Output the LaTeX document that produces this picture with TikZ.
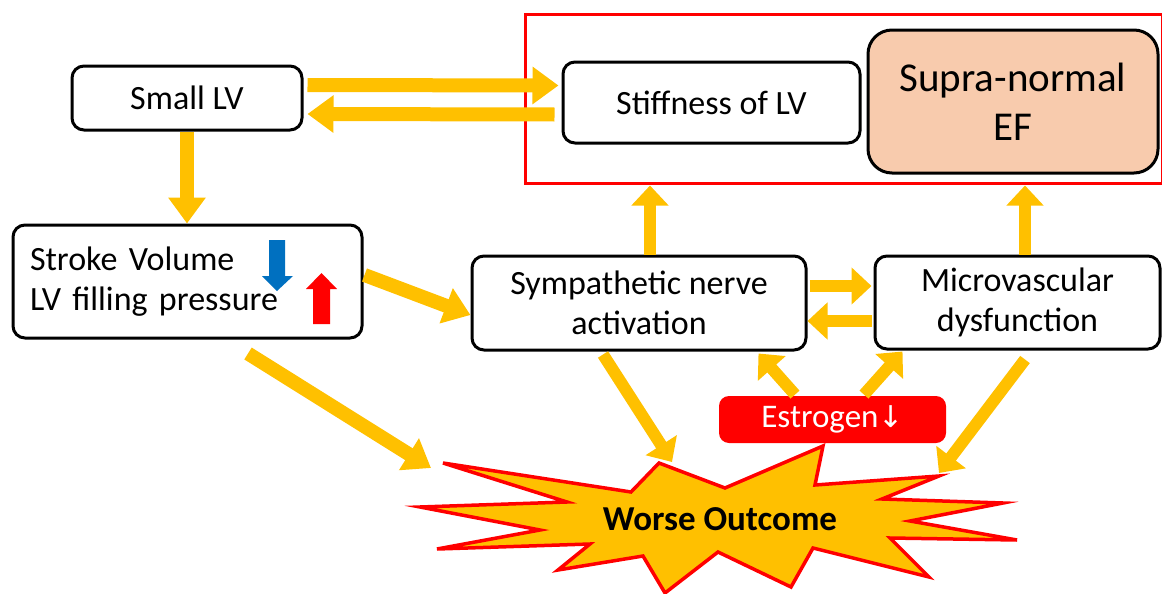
\documentclass[tikz,border=0pt]{standalone}
\usepackage{fontspec}
\setmainfont{Carlito}
\newfontfamily\symfont{DejaVu Sans}
\usetikzlibrary{arrows.meta,calc}
\definecolor{ylw}{HTML}{FFC000}
\definecolor{peach}{HTML}{F8CBAD}
\definecolor{blueA}{HTML}{0070C0}
\definecolor{redA}{HTML}{FF0000}
\begin{document}
\begin{tikzpicture}[x=0.5pt,y=-0.5pt,
  box/.style={draw=black,line width=1.5pt,rounded corners=6pt,fill=white,inner sep=0pt,align=center,font=\fontsize{17}{20}\selectfont},
  yarr/.style={draw=ylw,line width=7pt,-{Triangle[length=13pt,width=18pt]}},
  yarrs/.style={draw=ylw,line width=6pt,-{Triangle[length=10pt,width=18pt]}},
]
\useasboundingbox (0,0) rectangle (1162,594);
% frame
\node[draw=redA,line width=1.5pt,minimum width=318.5pt,minimum height=84.5pt,inner sep=0pt] (frame) at (843.5,98.5) {};
% nodes
\node[box,minimum width=115pt,minimum height=32pt] (smalllv) at (187,98) {Small LV};
\node[box,minimum width=148.5pt,minimum height=40.5pt] (stiff) at (711.5,102.5) {Stiffness of LV};
\node[box,fill=peach,rounded corners=12pt,minimum width=145pt,minimum height=71.5pt,font=\fontsize{20.5}{24.5}\selectfont] (supra) at (1013,101.5) {Supra-normal\\EF};
\node[box,align=left,text width=157.5pt,minimum height=56.5pt,inner xsep=8.5pt] (stroke) at (187.5,281.5) {Stroke Volume\\LV filling pressure};
\node[box,minimum width=167pt,minimum height=47pt] (symp) at (639,303) {Sympathetic nerve\\activation};
\node[box,minimum width=142.5pt,minimum height=46.5pt] (micro) at (1017.5,302.5) {Microvascular\\dysfunction};
% up/down marks
\fill[blueA] (269,240) -- (285,240) -- (285,276) -- (293,276) -- (277,291) -- (262,276) -- (269,276) -- cycle;
\fill[redA] (313,324) -- (330,324) -- (330,289) -- (337,289) -- (321.5,273) -- (306,289) -- (313,289) -- cycle;
% starburst
\draw[fill=ylw,draw=redA,line width=1.75pt,line join=miter]
  (443,463) -- (631,492) -- (659,463) -- (725,488) -- (823,446) -- (815,485) -- (939,476) -- (882,499)
  -- (1003,503) -- (910,521) -- (1017,540) -- (890,538) -- (929,577) -- (813,548) -- (791,587)
  -- (718,552) -- (665,593) -- (643,556) -- (558,570) -- (590,544) -- (437,549) -- (540,530)
  -- (420,507) -- (567,502) -- cycle;
\node[font=\bfseries\fontsize{17.5}{20}\selectfont,inner sep=0pt] (worse) at (720,519) {Worse Outcome};
% estrogen
\node[fill=redA,rounded corners=5pt,minimum width=113.5pt,minimum height=23.5pt,inner sep=0pt,text=white,font=\fontsize{16.5}{20}\selectfont] (estro) at (832.5,419.5) {Estrogen{\symfont\fontsize{15}{20}\selectfont ↓}};
% arrows
\draw[yarr] ($(smalllv.east)+(4,-13)$) -- ($(stiff.west)+(-3,-17)$);
\draw[yarr] ($(stiff.west)+(-7,12)$) -- ($(smalllv.east)+(4,16)$);
\coordinate (d1) at (smalllv.south);
\draw[yarr] (d1) -- (d1 |- stroke.north);
\draw[yarr] ($(stroke.east)+(1,-6.5)$) -- ($(symp.west)+(0,12)$);
\draw[yarr] ($(stroke.south)+(60.5,14)$) -- ($(worse)+(-289,-51)$);
\coordinate (s1) at ($(symp.north)+(11,0)$);
\draw[yarrs] (s1) -- ($(s1 |- frame.south)+(0,1)$);
\coordinate (m1) at ($(micro.north)+(7.5,0)$);
\draw[yarrs] (m1) -- ($(m1 |- frame.south)+(0,1)$);
\draw[yarrs] ($(symp.east)+(2,-17)$) -- ($(micro.west)+(-2,-16.5)$);
\draw[yarrs] ($(micro.west)+(-2,18.5)$) -- ($(symp.east)+(0,18)$);
\draw[yarrs] ($(symp.south)+(-36,3)$) -- ($(worse)+(-48,-57)$);
\draw[yarrs] ($(estro.north)+(-37.5,-1)$) -- ($(symp.south east)+(-49,2)$);
\draw[yarrs] ($(estro.north)+(31.5,-1)$) -- ($(micro.south west)+(29,1)$);
\draw[yarrs] ($(micro.south)+(7.5,9)$) -- ($(worse)+(219,-46)$);
\end{tikzpicture}
\end{document}
